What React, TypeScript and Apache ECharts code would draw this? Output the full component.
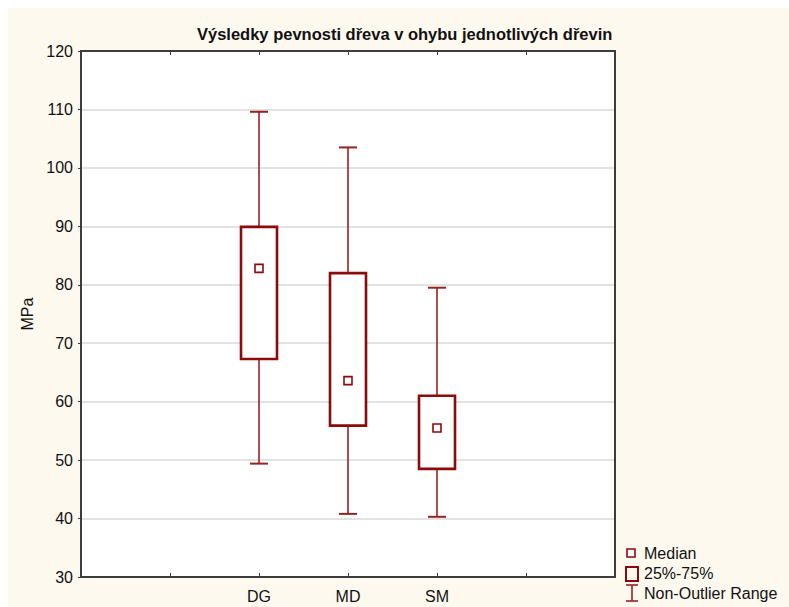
import React, { useEffect, useRef } from "react";
import * as echarts from "echarts";

const categories = ["", "", "DG", "MD", "SM", "", ""];
const boxNames = ["DG", "MD", "SM"];
const mins = [49.4, 40.8, 40.3];
const q1s = [67.3, 55.9, 48.5];
const medians = [82.8, 63.6, 55.5];
const q3s = [89.9, 82.0, 61.0];
const maxs = [109.6, 103.5, 79.5];
const yTicks = [30, 40, 50, 60, 70, 80, 90, 100, 110, 120];
const legendLabels = ["Median", "25%-75%", "Non-Outlier Range"];

const DARK_RED = "#8b0a0a";
const WHISKER = "#962222";
const FONT = "Liberation Sans, Arial, sans-serif";

export default function App() {
  const ref = useRef<HTMLDivElement>(null);
  useEffect(() => {
    document.documentElement.style.overflow = "hidden";
    if (!ref.current) return;
    const chart = echarts.init(ref.current, undefined, { renderer: "svg" });
    const data = boxNames.map((n, i) => [
      categories.indexOf(n),
      mins[i],
      q1s[i],
      medians[i],
      q3s[i],
      maxs[i],
    ]);
    const option: any = {
      animation: false,
      backgroundColor: "#fdf9ef",
      title: {
        text: "Výsledky pevnosti dřeva v ohybu jednotlivých dřevin",
        left: 184,
        top: 12,
        textStyle: { fontFamily: FONT, fontSize: 16.5, fontWeight: "bold", color: "#111" },
      },
      grid: { left: 73, right: 174, top: 43, bottom: 30, show: true, backgroundColor: "#ffffff", borderWidth: 0 },
      xAxis: [
        {
          type: "category",
          data: categories,
          boundaryGap: false,
          position: "bottom",
          axisLine: { lineStyle: { color: "#3c3c3c", width: 2 } },
          axisTick: { inside: true, length: 4, lineStyle: { color: "#3c3c3c" } },
          axisLabel: { fontFamily: FONT, fontSize: 16, color: "#111", margin: 11, interval: 0 },
          splitLine: { show: false },
        },
        {
          type: "category",
          data: categories,
          boundaryGap: false,
          position: "top",
          axisLine: { lineStyle: { color: "#3c3c3c", width: 2 } },
          axisTick: { inside: true, length: 4, lineStyle: { color: "#3c3c3c" } },
          axisLabel: { show: false },
          splitLine: { show: false },
        },
      ],
      yAxis: [
        {
          type: "value",
          min: yTicks[0],
          max: yTicks[yTicks.length - 1],
          interval: 10,
          name: "MPa",
          nameLocation: "middle",
          nameGap: 46,
          nameTextStyle: { fontFamily: FONT, fontSize: 16, color: "#111" },
          axisLine: { show: true, lineStyle: { color: "#3c3c3c", width: 2 } },
          axisTick: { show: true, length: 3, lineStyle: { color: "#3c3c3c" } },
          axisLabel: { fontFamily: FONT, fontSize: 16, color: "#111", margin: 8 },
          splitLine: { show: true, lineStyle: { color: "#d9d9d9", width: 1.5 } },
        },
        {
          type: "value",
          min: yTicks[0],
          max: yTicks[yTicks.length - 1],
          interval: 10,
          position: "right",
          axisLine: { show: true, lineStyle: { color: "#3c3c3c", width: 2 } },
          axisTick: { show: false },
          axisLabel: { show: false },
          splitLine: { show: false },
        },
      ],
      series: [
        {
          type: "custom",
          xAxisIndex: 0,
          yAxisIndex: 0,
          data,
          renderItem: (params: any, api: any) => {
            const x = api.value(0);
            const pMin = api.coord([x, api.value(1)]);
            const pQ1 = api.coord([x, api.value(2)]);
            const pMed = api.coord([x, api.value(3)]);
            const pQ3 = api.coord([x, api.value(4)]);
            const pMax = api.coord([x, api.value(5)]);
            const cx = pMin[0];
            const bw = 36;
            const cw = 18;
            const ms = 8;
            const wStyle = { stroke: WHISKER, lineWidth: 1.6 };
            return {
              type: "group",
              children: [
                { type: "line", shape: { x1: cx, y1: pQ3[1], x2: cx, y2: pMax[1] }, style: wStyle },
                { type: "line", shape: { x1: cx - cw / 2, y1: pMax[1], x2: cx + cw / 2, y2: pMax[1] }, style: { stroke: WHISKER, lineWidth: 2 } },
                { type: "line", shape: { x1: cx, y1: pQ1[1], x2: cx, y2: pMin[1] }, style: wStyle },
                { type: "line", shape: { x1: cx - cw / 2, y1: pMin[1], x2: cx + cw / 2, y2: pMin[1] }, style: { stroke: WHISKER, lineWidth: 2 } },
                {
                  type: "rect",
                  shape: { x: cx - bw / 2, y: pQ3[1], width: bw, height: pQ1[1] - pQ3[1] },
                  style: { fill: "#ffffff", stroke: DARK_RED, lineWidth: 2.6 },
                },
                {
                  type: "rect",
                  shape: { x: cx - ms / 2, y: pMed[1] - ms / 2, width: ms, height: ms },
                  style: { fill: "#ffffff", stroke: DARK_RED, lineWidth: 1.6 },
                },
              ],
            };
          },
        },
      ],
      graphic: [
        { type: "rect", shape: { x: 619, y: 541, width: 8, height: 8 }, style: { fill: "#fff", stroke: DARK_RED, lineWidth: 1.6 } },
        { type: "rect", shape: { x: 618, y: 559, width: 12, height: 14 }, style: { fill: "#fdf9ef", stroke: DARK_RED, lineWidth: 2 } },
        { type: "line", shape: { x1: 624, y1: 577, x2: 624, y2: 593 }, style: { stroke: WHISKER, lineWidth: 1.6 } },
        { type: "line", shape: { x1: 618, y1: 577, x2: 630, y2: 577 }, style: { stroke: WHISKER, lineWidth: 1.6 } },
        { type: "line", shape: { x1: 618, y1: 593, x2: 630, y2: 593 }, style: { stroke: WHISKER, lineWidth: 1.6 } },
        ...legendLabels.map((t, i) => ({
          type: "text",
          x: 636,
          y: 545 + i * 20,
          style: { text: t, fontFamily: FONT, fontSize: 16, fill: "#111", textVerticalAlign: "middle", verticalAlign: "middle" },
        })),
      ],
    };
    chart.setOption(option);
    return () => chart.dispose();
  }, []);
  return <div ref={ref} style={{ position: "fixed", left: 8, top: 8, width: 781, height: 599 }} />;
}
